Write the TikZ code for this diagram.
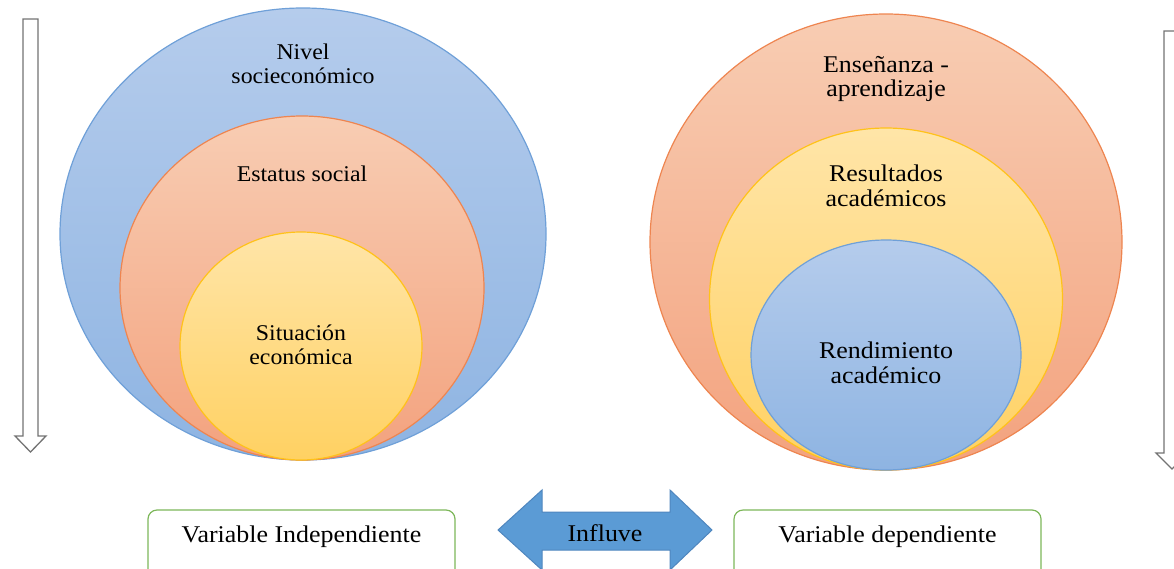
\documentclass[tikz,border=0pt]{standalone}
\usepackage{fontspec}
\setmainfont{Liberation Serif}
\newfontfamily\tnrA[FakeStretch=1.06]{Liberation Serif}
\newfontfamily\tnrB[FakeStretch=1.08]{Liberation Serif}
\usetikzlibrary{shapes.geometric}
\definecolor{bluetop}{HTML}{B5CCEC}
\definecolor{bluebot}{HTML}{8EB4E2}
\definecolor{blueline}{HTML}{6FA0D8}
\definecolor{orangetop}{HTML}{F8CDB3}
\definecolor{orangebot}{HTML}{F3A27E}
\definecolor{orangeline}{HTML}{EE8550}
\definecolor{yellowtop}{HTML}{FFE5A8}
\definecolor{yellowbot}{HTML}{FFD162}
\definecolor{yellowline}{HTML}{FFC21A}
\definecolor{arrowfill}{HTML}{5B9BD5}
\definecolor{arrowline}{HTML}{4F86BE}
\definecolor{boxline}{HTML}{7DB75A}
\tikzset{
  bluecirc/.style={ellipse, draw=blueline, line width=1.2pt, top color=bluetop, bottom color=bluebot, inner sep=0pt},
  orangecirc/.style={ellipse, draw=orangeline, line width=1.2pt, top color=orangetop, bottom color=orangebot, inner sep=0pt},
  yellowcirc/.style={ellipse, draw=yellowline, line width=1.2pt, top color=yellowtop, bottom color=yellowbot, inner sep=0pt},
  lbl/.style={align=center, font=\tnrB\fontsize{24}{24.5}\selectfont, inner sep=0pt},
  lbla/.style={align=center, font=\tnrA\fontsize{22.5}{24.5}\selectfont, inner sep=0pt},
  varbox/.style={draw=boxline, line width=1.2pt, rounded corners=9pt, fill=white, minimum width=307pt, minimum height=70pt, inner sep=0pt},
  hollow/.style={draw=black!55, line width=1.3pt, fill=white, line join=miter},
}
\begin{document}
\begin{tikzpicture}[x=1pt,y=-1pt]
\useasboundingbox (0,0) rectangle (1174,568);
% left vertical arrow
\draw[hollow] (23,19) -- (38,19) -- (38,436) -- (46,436) -- (30.5,452) -- (15,436) -- (23,436) -- cycle;
% right vertical arrow (cut by edge)
\draw[hollow] (1164,31) -- (1180,31) -- (1180,453) -- (1188,453) -- (1172,469) -- (1156,453) -- (1164,453) -- cycle;
% left circles
\node[bluecirc, minimum width=486pt, minimum height=452pt] (lout) at (303,234) {};
\node[orangecirc, minimum width=364pt, minimum height=344pt] (lmid) at (302,288) {};
\node[yellowcirc, minimum width=242pt, minimum height=228pt] (lin) at (301,346) {};
\node[lbla] (t1) at (303,64) {Nivel\\socieconómico};
\node[lbla] (t2) at (302,174) {Estatus social};
\node[lbla] (t3) at (301,345) {Situación\\económica};
% right circles
\node[orangecirc, minimum width=472pt, minimum height=456pt] (rout) at (886,242) {};
\node[yellowcirc, minimum width=353pt, minimum height=342pt] (rmid) at (886,299) {};
\node[bluecirc, minimum width=270pt, minimum height=230pt] (rin) at (886,355) {};
\node[lbl] (t4) at (886,79) {Enseñanza -\\aprendizaje};
\node[lbl] (t5) at (886,186) {Resultados\\académicos};
\node[lbl] (t6) at (886,363) {Rendimiento\\académico};
% bottom boxes
\node[varbox] (vi) at (301.5,545) {};
\node[lbl] (vit) at (301.5,537) {Variable Independiente};
\node[varbox] (vd) at (887.5,545) {};
\node[lbl] (vdt) at (887.5,537) {Variable dependiente};
% double arrow
\draw[draw=arrowline, line width=1pt, fill=arrowfill]
  (498,530) -- (542,490) -- (542,512) -- (670,512) -- (670,490) -- (712,530)
  -- (670,570) -- (670,550) -- (542,550) -- (542,570) -- cycle;
\node[lbl] (inf) at (605,533) {Influve};
\end{tikzpicture}
\end{document}
